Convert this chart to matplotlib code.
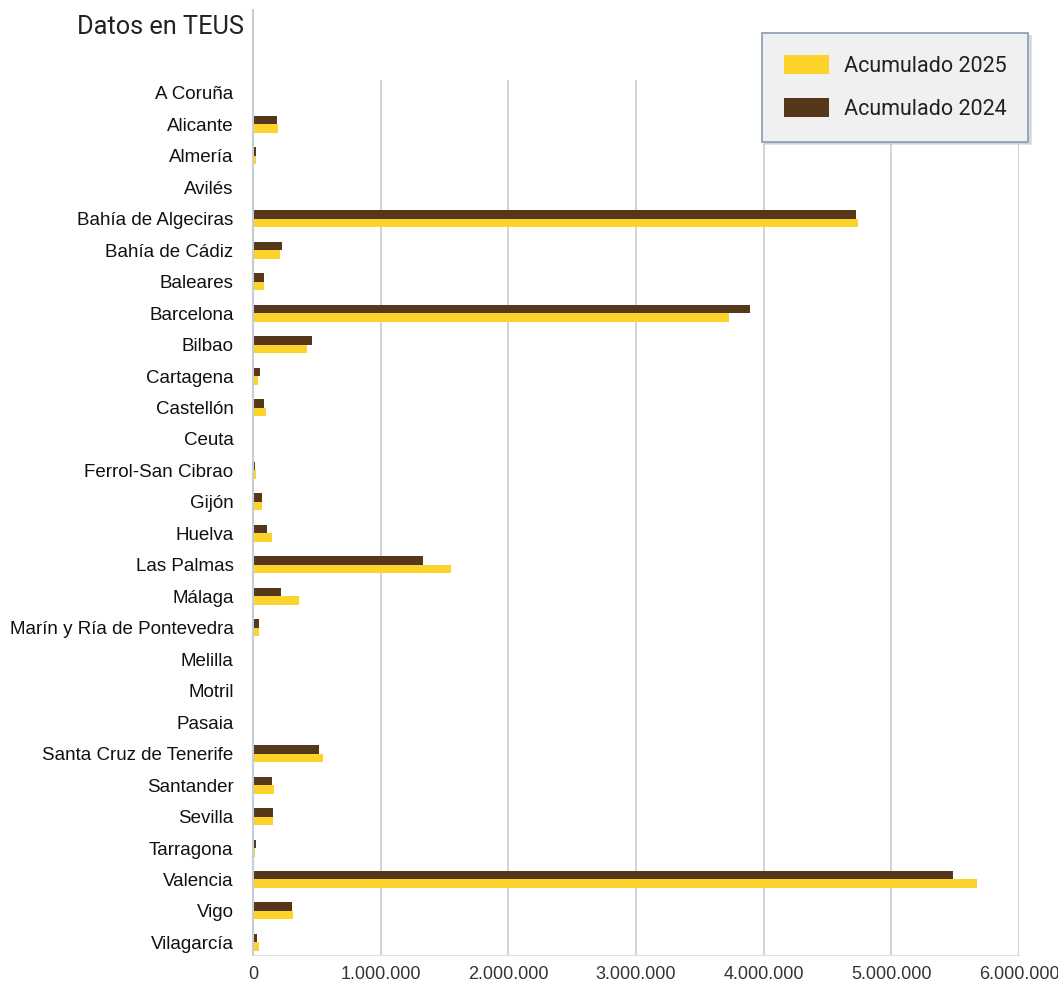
import numpy as np
import matplotlib.pyplot as plt
from matplotlib.lines import Line2D
from matplotlib.patches import Patch
from matplotlib.ticker import FuncFormatter

# Datos (TEUS)
puertos = ["A Coruña", "Alicante", "Almería", "Avilés", "Bahía de Algeciras",
           "Bahía de Cádiz", "Baleares", "Barcelona", "Bilbao", "Cartagena",
           "Castellón", "Ceuta", "Ferrol-San Cibrao", "Gijón", "Huelva",
           "Las Palmas", "Málaga", "Marín y Ría de Pontevedra", "Melilla",
           "Motril", "Pasaia", "Santa Cruz de Tenerife", "Santander", "Sevilla",
           "Tarragona", "Valencia", "Vigo", "Vilagarcía"]
acum_2024 = [10000, 186000, 23000, 0, 4720000,
             225000, 89000, 3890000, 465000, 55000,
             89000, 9000, 18000, 73000, 110000,
             1334000, 219000, 50000, 7000,
             6000, 0, 514000, 151000, 154000,
             21000, 5480000, 303000, 34000]
acum_2025 = [10000, 193000, 22000, 1000, 4740000,
             214000, 89000, 3730000, 425000, 40000,
             102000, 7000, 22000, 73000, 151000,
             1548000, 358000, 45000, 5000,
             3000, 3000, 545000, 164000, 154000,
             15000, 5670000, 313000, 45000]

amarillo = "#FDD22B"
marron = "#56371A"
gris = "#C5CDD8"

fig = plt.figure(figsize=(10.58, 9.85), dpi=100)
ax = fig.add_axes([253 / 1058, 1 - 955 / 985, (1019 - 253) / 1058, (955 - 80) / 985])

y = np.arange(len(puertos))
h = 0.27
ax.barh(y - h / 2, acum_2024, height=h, color=marron, zorder=3)
ax.barh(y + h / 2, acum_2025, height=h, color=amarillo, zorder=3)

ax.set_xlim(0, 6000000)
ax.set_ylim(27.4, -0.41)
ax.set_yticks(y)
ax.set_yticklabels(puertos, fontsize=13.5, family="Liberation Sans", color="#111111")
ax.set_xticks(np.arange(0, 6000001, 1000000))
ax.xaxis.set_major_formatter(FuncFormatter(lambda v, p: "{:,.0f}".format(v).replace(",", ".")))
for t in ax.get_xticklabels():
    t.set_fontsize(13)
    t.set_family("Liberation Sans")
    t.set_color("#333333")
ax.tick_params(axis="both", length=0)
ax.tick_params(axis="y", pad=14)
ax.tick_params(axis="x", pad=8)

ax.grid(axis="x", color=gris, linewidth=1.2, zorder=0)
for s in ["top", "right", "left"]:
    ax.spines[s].set_visible(False)
ax.spines["bottom"].set_color("#DCE1E8")

# eje vertical que sube hasta el titulo
fig.add_artist(Line2D([253 / 1058, 253 / 1058], [1 - 955 / 985, 1 - 10 / 985],
                      transform=fig.transFigure, color=gris, linewidth=1.5))

fig.text(77 / 1058, 1 - 27 / 985, "Datos en TEUS", fontsize=18.3, family="Roboto",
         color="#222222", va="center", ha="left")

handles = [Patch(facecolor=amarillo, edgecolor="none"),
           Patch(facecolor=marron, edgecolor="none")]
leg = fig.legend(handles, ["Acumulado 2025", "Acumulado 2024"],
                 loc="upper left", bbox_to_anchor=(762 / 1058, 1 - 33 / 985),
                 bbox_transform=fig.transFigure, borderaxespad=0,
                 prop={"family": "Roboto", "size": 15.5},
                 handlelength=2.1, handleheight=1.0, handletextpad=0.7,
                 labelspacing=1.0, borderpad=1.0, fancybox=False,
                 shadow={"color": "#C8C8C8", "alpha": 0.6},
                 facecolor="#F0F0F0", edgecolor="#8A9BB5", framealpha=1)
leg.get_frame().set_linewidth(1.2)
for t in leg.get_texts():
    t.set_color("#222222")

fig.savefig("out.png", dpi=100)
